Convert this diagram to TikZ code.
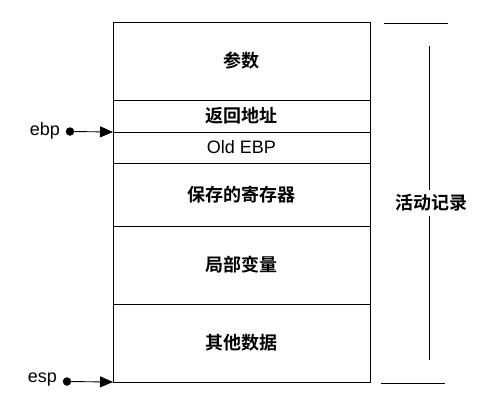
\documentclass[tikz,border=0pt]{standalone}
\usepackage{fontspec}
\setmainfont{Liberation Sans}
\newfontfamily\cjk{Noto Sans CJK SC}[BoldFont={* Bold}]
\usetikzlibrary{arrows.meta}
\begin{document}
\begin{tikzpicture}[x=1pt,y=-1pt,
  cell/.style={draw, line width=0.9pt, minimum width=257pt, inner sep=0pt, outer sep=0pt,
    font=\fontsize{18pt}{20pt}\selectfont\cjk\bfseries},
  lat/.style={font=\fontsize{18pt}{20pt}\selectfont},
  ptr/.style={line width=0.9pt, -{Triangle[length=13pt,width=11pt]}},
  dotb/.style={circle, fill=black, inner sep=0pt, minimum size=8.5pt},
  brk/.style={line width=0.9pt}]
\useasboundingbox (0,0) rectangle (486,402);
\node[cell, minimum height=78pt] (c1) at (241.5,61) {参数};
\node[cell, minimum height=32pt] (c2) at (241.5,116) {返回地址};
\node[cell, minimum height=31pt, font=\fontsize{18pt}{20pt}\selectfont] (c3) at (241.5,147.5) {Old EBP};
\node[cell, minimum height=63pt] (c4) at (241.5,194.5) {保存的寄存器};
\node[cell, minimum height=78pt] (c5) at (241.5,265) {局部变量};
\node[cell, minimum height=78pt] (c6) at (241.5,343) {其他数据};
% pointers
\node[dotb] (d1) at (70,131.5) {};
\node[lat, anchor=east, inner sep=0pt] (ebp) at (60,131) {ebp};
\draw[ptr] (d1) -- (c3.north west);
\node[dotb] (d2) at (67,381.5) {};
\node[lat, anchor=east, inner sep=0pt] (esp) at (57,380) {esp};
\draw[ptr] (d2) -- (c6.south west);
% bracket
\coordinate (t1) at (384,23);
\coordinate (t2) at (448,23);
\coordinate (b1) at (381,383);
\coordinate (b2) at (445,383);
\coordinate (v1) at (429,46);
\coordinate (v2) at (429,360);
\node[font=\fontsize{18pt}{20pt}\selectfont\cjk\bfseries, inner sep=0pt, minimum height=26pt] (lab) at (431,203) {活动记录};
\draw[brk] (t1) -- (t2);
\draw[brk] (b1) -- (b2);
\draw[brk] (v1) -- (v1 |- lab.north);
\draw[brk] (v2 |- lab.south) -- (v2);
\end{tikzpicture}
\end{document}
